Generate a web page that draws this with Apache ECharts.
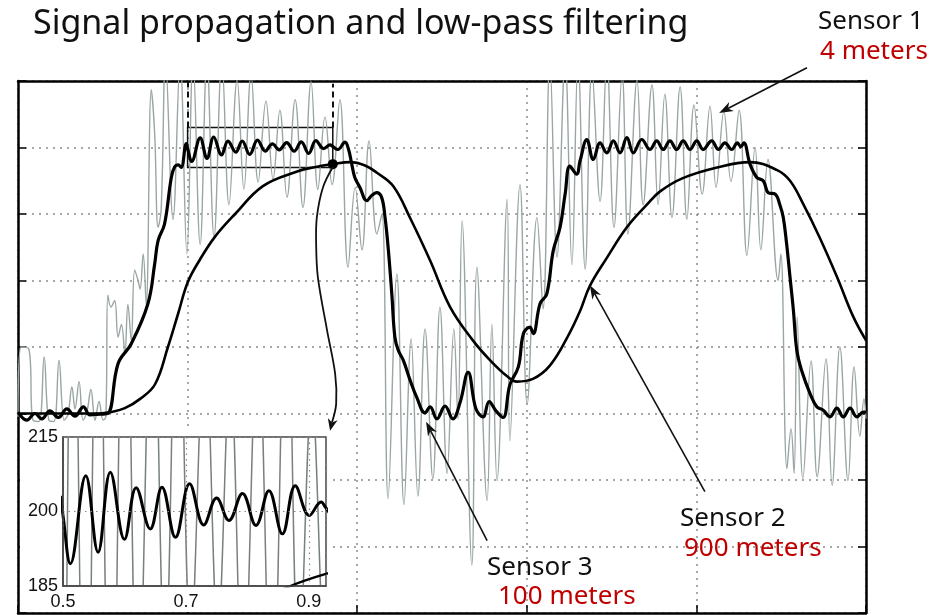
<!DOCTYPE html>
<html>
<head>
<meta charset="utf-8">
<title>Signal propagation and low-pass filtering</title>
<script src="https://cdn.jsdelivr.net/npm/echarts@6/dist/echarts.min.js"></script>
<style>
html, body { margin: 0; padding: 0; background: #fff; }
#main { width: 940px; height: 615px; }
</style>
</head>
<body>
<div id="main"></div>
<script>
// sensor 1, 4 m (raw, grey)
var s1x = [0, .009, .032, .044, .062, .077, .091, .106, .121, .136, .147, .159, .168, .180, .192, .203, .215, .227, .239, .251, .259,
  .265, .274, .285, .295, .305, .315, .324, .334, .344, .354, .360, .369, .378, .393, .403, .413, .422, .435, .457, .478, .498, .516, .537, .557, .578, .601, .622, .646, .666, .687, .708, .731, .752, .772, .793, .817, .840, .864, .884, .905, .926, .949,
  .973, .994, 1.014, 1.035, 1.058, 1.073, 1.091, 1.117, 1.138, 1.159, 1.179, 1.200, 1.223, 1.244, 1.265, 1.285, 1.297, 1.309, 1.338, 1.353, 1.383, 1.397, 1.412, 1.442, 1.450, 1.480, 1.501, 1.530, 1.548, 1.568,
  1.589, 1.613, 1.633, 1.651, 1.672, 1.692, 1.716, 1.736, 1.757, 1.781, 1.798, 1.825, 1.843, 1.869, 1.887, 1.907, 1.928, 1.952, 1.972, 1.993, 2.017, 2.040, 2.058, 2.081, 2.102, 2.126, 2.149, 2.173, 2.190, 2.211, 2.241, 2.249,
  2.267, 2.279, 2.288, 2.297, 2.314, 2.338, 2.356, 2.382, 2.400, 2.423, 2.447, 2.465, 2.482, 2.494, 2.500];
var s1y = [-2.5, 50, 48.5, -5, -6, 42.5, -5, -6, 40, -5, -1, 20, 3.5, 24, -5, 1, 18, -5, 9, -5, -2.5,
  89, 80, 85, 57.5, 67, 45, 82, 55, 108, 100, 93.5, 120, 82, 243.5, 210, 140, 153, 266, 146, 266, 120, 266, 127, 266, 132.5, 266, 157, 251, 168.5, 255, 174, 235, 176, 228, 162.5, 236, 155, 249.5, 168.5, 223, 172, 236,
  110, 170, 123, 205, 135, 150, -64, 105, -68.5, 56, -62, 63.5, -49, 80, -45, 63.5, -4, 145, -114, 110, -65.5, 67, -50.5, 161, -20.5, 172, 7, 147.5, 78.5, 266,
  117.5, 266, 112, 266, 108.5, 258.5, 159.5, 266, 140, 255, 135, 251, 157, 247, 157, 240, 147.5, 245.5, 146, 232, 165, 231, 170, 227, 174.5, 228, 119, 200, 123, 191, 100, 120,
  -41.5, -11.5, -45, 72.5, -49, 39.5, -47.5, 41, -54, 50, -50.5, 35, -17, 11, -4];

// sensor 3, 100 m (thick black, ripple)
var s3x = [0, .026, .050, .070, .094, .119, .144, .168, .193, .212, .242, .265, .295, .334, .383, .403, .413, .432, .452, .462, .472, .481, .496,
  .5, .512, .537, .557, .577, .600, .619, .642, .661, .683, .706, .729, .750, .770, .792, .814, .835, .857, .878, .901, .920, .928,
  .943, .964, .974, .984, .993, 1.008, 1.028, 1.043, 1.057, 1.072, 1.082, 1.092, 1.102, 1.111, 1.121, 1.136, 1.156, 1.175, 1.200, 1.215,
  1.235, 1.259, 1.282, 1.303, 1.327, 1.350, 1.371, 1.389, 1.409, 1.430, 1.450, 1.475, 1.490, 1.509, 1.519, 1.539, 1.559, 1.578, 1.598, 1.613,
  1.627, 1.647, 1.657, 1.677, 1.696, 1.716, 1.736, 1.755, 1.775, 1.795, 1.814, 1.839, 1.863, 1.883, 1.902, 1.922, 1.942, 1.961, 1.981, 2.001,
  2.020, 2.045, 2.065, 2.084, 2.104, 2.121, 2.131, 2.140, 2.158, 2.178, 2.197, 2.212, 2.232, 2.246, 2.256, 2.266, 2.276, 2.286, 2.296, 2.310,
  2.335, 2.355, 2.374, 2.394, 2.414, 2.433, 2.453, 2.473, 2.492, 2.500];
var s3y = [1, -5, 0, -4, 2, -3, 3.5, -2, 5, -1, -0.5, 0, 37.5, 52.5, 82.5, 112.5, 130, 142.5, 177.5, 185.5, 187, 185, 203,
  199.2, 189.5, 207.2, 191.8, 207.9, 194.4, 204.8, 196.5, 204.9, 194.8, 205.6, 197.3, 202.7, 198.2, 203.6, 197.2, 204.2, 195.5, 205.2, 199.2, 201.9, 200.7,
  198.5, 204, 199, 187.5, 177.5, 170, 160, 164, 166, 162.5, 147.5, 122.5, 90, 57.5, 47.5, 40, 25, 12.5, 0.5, 5,
  -4, 5.5, -4, 8, 31, 3.5, -2.5, 9, 2, -3, 21.5, 35, 60, 65, 60, 82.5, 90, 122.5, 140, 165,
  186, 180, 190, 206, 191, 203.5, 196, 205, 196, 207.5, 196, 206, 198.5, 205, 198.5, 205, 198.5, 205, 198.5, 205,
  198.5, 205, 198.5, 203.5, 198.5, 203.5, 200.5, 203.5, 187.5, 177.5, 175, 166, 165, 157, 147.5, 127.5, 102.5, 77.5, 47.5, 32.5,
  15, 5, 2.5, -2.5, 4, -2.5, 4, -2.5, 1, 1];

// sensor 2, 900 m (smooth black)
var s2x = [0, .242, .271, .315, .360, .404, .442, .472, .501, .537, .581, .640, .722, .823, .870, .929, .979, 1.023, 1.058, 1.106,
  1.156, 1.215, 1.274, 1.341, 1.392, 1.442, 1.471, 1.518, 1.568, 1.619, 1.657, 1.686, 1.736, 1.795, 1.854, 1.893, 1.960, 2.061, 2.158, 2.238,
  2.276, 2.314, 2.364, 2.414, 2.462, 2.500];
var s2y = [0, 0, 1, 4, 11, 22, 50, 75, 99, 116, 133, 150, 171, 182, 185, 187.5, 189, 186.5, 181, 171,
  147, 115, 80, 55, 40, 28, 24, 26, 36, 57, 77, 96, 117, 140, 157, 167, 177, 185, 189, 183,
  175, 158, 132, 103, 73, 55];

// zoom window shown in the inset
var zoomX = [0.5, 0.928];
var zoomY = [185, 215];
var insetXTicks = [0.5, 0.7, 0.9];
var insetYTicks = [185, 200, 215];

function pairs(xs, ys) {
  return xs.map(function (x, i) { return [x, ys[i]]; });
}

var myChart = echarts.init(document.getElementById('main'));

var dotted = { color: '#8c8c8c', width: 1.5, type: [2, 5] };
var frame = { color: '#000', width: 2.5 };
var inTick = { inside: true, length: 8, lineStyle: { color: '#000', width: 1.5 } };

var option = {
  backgroundColor: '#fff',
  animation: false,
  grid: [
    { left: 18, top: 81, width: 848, height: 532 },
    { left: 63, top: 437, width: 263, height: 149, show: true, backgroundColor: '#fff',
      borderColor: '#444', borderWidth: 1.5, z: 6 }
  ],
  xAxis: [
    { gridIndex: 0, type: 'value', min: 0, max: 2.5, interval: 0.5, position: 'bottom',
      axisLine: { onZero: false, lineStyle: frame }, axisTick: inTick,
      axisLabel: { show: false }, splitLine: { show: true, lineStyle: dotted } },
    { gridIndex: 0, type: 'value', min: 0, max: 2.5, interval: 0.5, position: 'top',
      axisLine: { onZero: false, lineStyle: frame }, axisTick: { show: false },
      axisLabel: { show: false }, splitLine: { show: false } },
    { gridIndex: 1, type: 'value', min: zoomX[0], max: zoomX[1], interval: 0.2, z: 12,
      axisLine: { onZero: false, lineStyle: { color: '#444', width: 1.5 } }, axisTick: { show: false },
      axisLabel: { customValues: insetXTicks, color: '#111', fontSize: 18, fontFamily: 'Liberation Sans', margin: 7,
        formatter: function (v) { return v.toFixed(1); } },
      splitLine: { show: true, lineStyle: { color: '#888', width: 1.2, type: [1.5, 4] } } }
  ],
  yAxis: [
    { gridIndex: 0, type: 'value', min: -150, max: 250, interval: 50, position: 'left',
      axisLine: { onZero: false, lineStyle: frame }, axisTick: inTick,
      axisLabel: { show: false }, splitLine: { show: true, lineStyle: dotted } },
    { gridIndex: 0, type: 'value', min: -150, max: 250, interval: 50, position: 'right',
      axisLine: { onZero: false, lineStyle: frame }, axisTick: inTick,
      axisLabel: { show: false }, splitLine: { show: false } },
    { gridIndex: 1, type: 'value', min: zoomY[0], max: zoomY[1], interval: 15, z: 12,
      axisLine: { onZero: false, lineStyle: { color: '#444', width: 1.5 } }, axisTick: { show: false },
      axisLabel: { customValues: insetYTicks, color: '#111', fontSize: 18, fontFamily: 'Liberation Sans', margin: 5 },
      splitLine: { show: true, lineStyle: { color: '#888', width: 1.2, type: [1.5, 4] } } }
  ],
  series: [
    { name: 'Sensor 1', type: 'line', xAxisIndex: 0, yAxisIndex: 0, data: pairs(s1x, s1y),
      smooth: 0.4, showSymbol: false, z: 2,
      lineStyle: { color: '#9aa5a5', width: 1.4 } },
    { name: 'Sensor 2', type: 'line', xAxisIndex: 0, yAxisIndex: 0, data: pairs(s2x, s2y),
      smooth: 0.4, showSymbol: false, z: 3,
      lineStyle: { color: '#000', width: 2.6 },
      markArea: { silent: true, itemStyle: { color: 'rgba(0,0,0,0)', borderColor: '#111', borderWidth: 1.5 },
        data: [[{ coord: [zoomX[0], zoomY[0]] }, { coord: [zoomX[1], zoomY[1]] }]] },
      markLine: { silent: true, symbol: 'none', label: { show: false },
        lineStyle: { color: '#111', width: 2, type: [6, 4] },
        data: [[{ coord: [zoomX[0], zoomY[1]] }, { coord: [zoomX[0], 250] }],
               [{ coord: [zoomX[1], zoomY[1]] }, { coord: [zoomX[1], 248] }]] },
      markPoint: { silent: true, symbol: 'circle', symbolSize: 10, itemStyle: { color: '#000' }, label: { show: false },
        data: [{ coord: [zoomX[1], 187.5] }] } },
    { name: 'Sensor 3', type: 'line', xAxisIndex: 0, yAxisIndex: 0, data: pairs(s3x, s3y),
      smooth: 0.4, showSymbol: false, z: 4,
      lineStyle: { color: '#000', width: 3.2 } },
    // inset
    { type: 'line', xAxisIndex: 2, yAxisIndex: 2, data: pairs(s1x, s1y), smooth: 0.4,
      showSymbol: false, z: 10, lineStyle: { color: '#777f7f', width: 1.5 } },
    { type: 'line', xAxisIndex: 2, yAxisIndex: 2, data: pairs(s2x, s2y), smooth: 0.4,
      showSymbol: false, z: 11, lineStyle: { color: '#000', width: 2.4 } },
    { type: 'line', xAxisIndex: 2, yAxisIndex: 2, data: pairs(s3x, s3y), smooth: 0.4,
      showSymbol: false, z: 11, lineStyle: { color: '#000', width: 3 } }
  ]
};

myChart.setOption(option);

// annotations
function toPx(p) { return myChart.convertToPixel({ seriesIndex: 0 }, p); }

function arrowHead(tip, from, len, half) {
  var dx = tip[0] - from[0], dy = tip[1] - from[1];
  var d = Math.sqrt(dx * dx + dy * dy), ux = dx / d, uy = dy / d;
  var bx = tip[0] - ux * len, by = tip[1] - uy * len;
  var nx = -uy, ny = ux;
  var notch = [tip[0] - ux * len * 0.7, tip[1] - uy * len * 0.7];
  return { notch: notch, points: [tip, [bx + nx * half, by + ny * half], notch, [bx - nx * half, by - ny * half]] };
}

var red = '#c00000';
var txtFont = 'Noto Sans';
var elements = [
  { type: 'rect', z: 5, shape: { x: 20, y: 430, width: 312, height: 182 }, style: { fill: '#fff' } },
  { type: 'text', x: 33, y: 24, z: 30, style: { text: 'Signal propagation and low-pass filtering', fontSize: 34, fontFamily: txtFont, fill: '#111', verticalAlign: 'middle' } },
  { type: 'text', x: 818, y: 22, z: 30, style: { text: 'Sensor 1', fontSize: 26, fontFamily: txtFont, fill: '#111', verticalAlign: 'middle' } },
  { type: 'text', x: 820, y: 52, z: 30, style: { text: '4 meters', fontSize: 26, fontFamily: txtFont, fill: red, verticalAlign: 'middle' } },
  { type: 'text', x: 680, y: 519, z: 30, style: { text: 'Sensor 2', fontSize: 26, fontFamily: txtFont, fill: '#111', verticalAlign: 'middle' } },
  { type: 'text', x: 684, y: 549, z: 30, style: { text: '900 meters', fontSize: 26, fontFamily: txtFont, fill: red, verticalAlign: 'middle' } },
  { type: 'text', x: 487, y: 568, z: 30, style: { text: 'Sensor 3', fontSize: 26, fontFamily: txtFont, fill: '#111', verticalAlign: 'middle' } },
  { type: 'text', x: 498, y: 597, z: 30, style: { text: '100 meters', fontSize: 26, fontFamily: txtFont, fill: red, verticalAlign: 'middle' } }
];

// straight arrows: [tail, tip] in data units of the main plot
var arrows = [
  [[2.326, 260], [2.067, 226]],
  [[2.025, -58.75], [1.686, 96.5]],
  [[1.383, -95.5], [1.203, -6.25]]
];
arrows.forEach(function (a) {
  var t = toPx(a[0]), h = toPx(a[1]);
  var head = arrowHead(h, t, 14, 5);
  elements.push({ type: 'line', z: 30, shape: { x1: t[0], y1: t[1], x2: head.notch[0], y2: head.notch[1] }, style: { stroke: '#111', lineWidth: 1.6 } });
  elements.push({ type: 'polygon', z: 30, shape: { points: head.points }, style: { fill: '#111' } });
});

// curved arrow from the zoom point down to the inset
var curve = [[0.929, 185.75], [0.899, 170], [0.881, 147.5], [0.879, 127], [0.884, 102.5], [0.911, 62.75], [0.935, 29.75], [0.938, 7.25], [0.920, -13]];
var cpts = curve.map(toPx);
var ch = arrowHead(cpts[cpts.length - 1], cpts[cpts.length - 2], 12, 5);
var cline = cpts.slice(0, cpts.length - 1).concat([ch.notch]);
elements.push({ type: 'polyline', z: 30, shape: { points: cline, smooth: 0.35 }, style: { stroke: '#111', lineWidth: 1.8, fill: null } });
elements.push({ type: 'polygon', z: 30, shape: { points: ch.points }, style: { fill: '#111' } });

myChart.setOption({ graphic: { elements: elements } });

window.addEventListener('resize', function () {
  myChart.resize();
});
</script>
</body>
</html>
